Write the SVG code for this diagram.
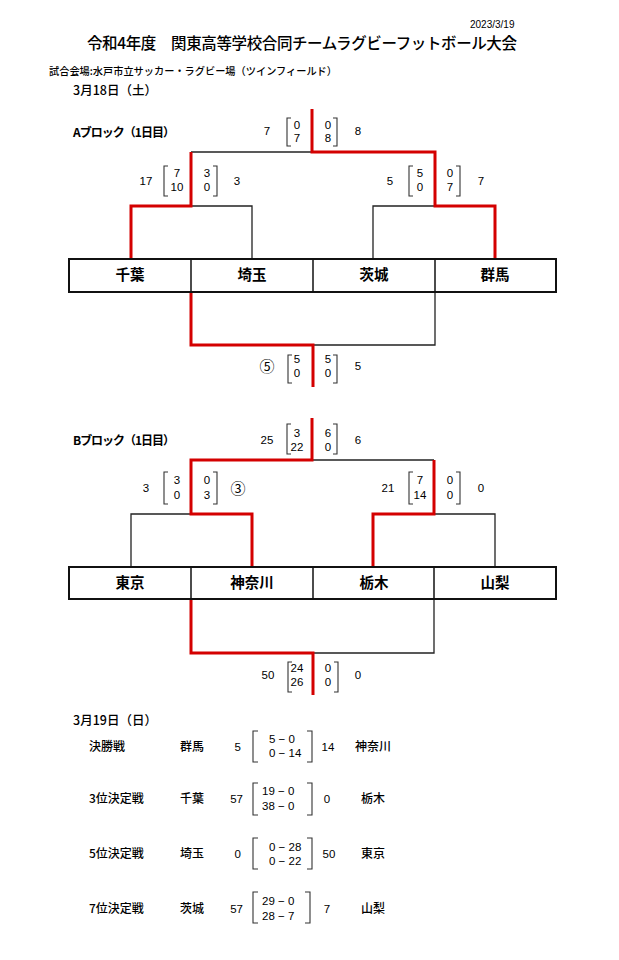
<svg xmlns="http://www.w3.org/2000/svg" width="619" height="960" viewBox="0 0 619 960">
<style>
text{font-family:"Liberation Sans","Noto Sans CJK JP",sans-serif;fill:#000}
.jp{font-family:"Noto Sans CJK JP","Liberation Sans",sans-serif}
.s{font-size:11.5px}
.m{text-anchor:middle}
.e{text-anchor:end}
.circ{font-family:"Noto Sans CJK JP",sans-serif;font-size:15px;text-anchor:middle}
.team{font-family:"Noto Sans CJK JP",sans-serif;font-size:14.5px;font-weight:bold;text-anchor:middle}
.fin{font-family:"Noto Sans CJK JP",sans-serif;font-size:12px;font-weight:500}
.red{fill:none;stroke:#d40000;stroke-width:3}
.blk{fill:none;stroke:#222;stroke-width:1.3}
.br{fill:none;stroke:#333;stroke-width:1.1}
.box{fill:#fff;stroke:#111;stroke-width:2}
.div{stroke:#111;stroke-width:1.5}
</style>
<rect width="619" height="960" fill="#fff"/>
<g id="header">
<text x="470" y="28" style="font-size:10px">2023/3/19</text>
<text class="jp" x="87" y="49" style="font-size:15.5px;font-weight:500" textLength="430" lengthAdjust="spacing">令和4年度　関東高等学校合同チームラグビーフットボール大会</text>
<text class="jp" x="49" y="75" style="font-size:10.5px;font-weight:500" textLength="288" lengthAdjust="spacingAndGlyphs">試合会場:水戸市立サッカー・ラグビー場（ツインフィールド）</text>
<text class="jp" x="73" y="94.5" style="font-size:12.5px;font-weight:500">3月18日（土）</text>
<text class="jp" x="73" y="136.5" style="font-size:12px;font-weight:bold" textLength="102" lengthAdjust="spacing">Aブロック（1日目）</text>
<text class="jp" x="73" y="444.5" style="font-size:12px;font-weight:bold" textLength="102" lengthAdjust="spacing">Bブロック（1日目）</text>
<text class="jp" x="73" y="724.5" style="font-size:12.5px;font-weight:500">3月19日（日）</text>
</g>
<g id="connectors">
<path class="blk" d="M191,152 H312"/>
<path class="blk" d="M191,206 H252 V259"/>
<path class="blk" d="M435,206 H373 V259"/>
<path class="blk" d="M313,345 H435 V292"/>
<path class="red" d="M312,109 V152 H435 V206 H495 V259"/>
<path class="red" d="M191,152 V206 H131 V259"/>
<path class="red" d="M191,292 V345 H313 V387"/>
<path class="blk" d="M312,460 H434"/>
<path class="blk" d="M191,514 H131 V567"/>
<path class="blk" d="M434,514 H495 V567"/>
<path class="blk" d="M313,653 H434 V599"/>
<path class="red" d="M312,418 V460 H191 V514 H252 V567"/>
<path class="red" d="M434,460 V514 H373 V567"/>
<path class="red" d="M191,599 V653 H313 V695"/>
</g>
<g id="teamsA">
<rect class="box" x="69" y="259" width="487" height="33"/>
<line class="div" x1="191" y1="259" x2="191" y2="292"/>
<line class="div" x1="313" y1="259" x2="313" y2="292"/>
<line class="div" x1="435" y1="259" x2="435" y2="292"/>
<g id="chiba"><text class="team" x="130" y="280">千葉</text></g>
<g id="saitama"><text class="team" x="252" y="280">埼玉</text></g>
<g id="ibaraki"><text class="team" x="374" y="280">茨城</text></g>
<g id="gunma"><text class="team" x="495" y="280">群馬</text></g>
</g>
<g id="teamsB">
<rect class="box" x="69" y="567" width="487" height="32"/>
<line class="div" x1="191" y1="567" x2="191" y2="599"/>
<line class="div" x1="313" y1="567" x2="313" y2="599"/>
<line class="div" x1="434" y1="567" x2="434" y2="599"/>
<g id="tokyo"><text class="team" x="130" y="588">東京</text></g>
<g id="kanagawa"><text class="team" x="252" y="588">神奈川</text></g>
<g id="tochigi"><text class="team" x="374" y="588">栃木</text></g>
<g id="yamanashi"><text class="team" x="495" y="588">山梨</text></g>
</g>
<g id="scoresA">
<g id="a-final">
<path class="br" d="M291,118 H287 V146 H291"/><path class="br" d="M333,118 H337 V146 H333"/>
<text class="s m" x="267" y="135">7</text>
<text class="s m" x="297" y="129">0</text><text class="s m" x="297" y="142">7</text>
<text class="s m" x="328" y="129">0</text><text class="s m" x="328" y="142">8</text>
<text class="s m" x="358" y="135">8</text>
</g>
<g id="a-semi-left">
<path class="br" d="M168,166 H164 V196 H168"/><path class="br" d="M213,166 H217 V196 H213"/>
<text class="s m" x="146" y="185">17</text>
<text class="s m" x="177" y="177">7</text><text class="s m" x="177" y="191">10</text>
<text class="s m" x="207" y="177">3</text><text class="s m" x="207" y="191">0</text>
<text class="s m" x="237" y="185">3</text>
</g>
<g id="a-semi-right">
<path class="br" d="M413,166 H409 V196 H413"/><path class="br" d="M456,166 H460 V196 H456"/>
<text class="s m" x="390" y="185">5</text>
<text class="s m" x="420" y="177">5</text><text class="s m" x="420" y="191">0</text>
<text class="s m" x="450" y="177">0</text><text class="s m" x="450" y="191">7</text>
<text class="s m" x="481" y="185">7</text>
</g>
<g id="a-consolation">
<path class="br" d="M292,355 H288 V383 H292"/><path class="br" d="M333,355 H337 V383 H333"/>
<text class="circ" x="267" y="371.5">⑤</text>
<text class="s m" x="297" y="363">5</text><text class="s m" x="297" y="377">0</text>
<text class="s m" x="328" y="363">5</text><text class="s m" x="328" y="377">0</text>
<text class="s m" x="358" y="370">5</text>
</g>
</g>
<g id="scoresB">
<g id="b-final">
<path class="br" d="M291,424 H287 V454 H291"/><path class="br" d="M333,424 H337 V454 H333"/>
<text class="s m" x="267" y="444">25</text>
<text class="s m" x="297" y="437">3</text><text class="s m" x="297" y="451">22</text>
<text class="s m" x="328" y="437">6</text><text class="s m" x="328" y="451">0</text>
<text class="s m" x="358" y="444">6</text>
</g>
<g id="b-semi-left">
<path class="br" d="M168,472 H164 V504 H168"/><path class="br" d="M213,472 H217 V504 H213"/>
<text class="s m" x="146" y="492">3</text>
<text class="s m" x="177" y="484">3</text><text class="s m" x="177" y="499">0</text>
<text class="s m" x="207" y="484">0</text><text class="s m" x="207" y="499">3</text>
<text class="circ" x="238" y="493.5">③</text>
</g>
<g id="b-semi-right">
<path class="br" d="M413,472 H409 V504 H413"/><path class="br" d="M456,472 H460 V504 H456"/>
<text class="s m" x="388" y="492">21</text>
<text class="s m" x="420" y="484">7</text><text class="s m" x="420" y="499">14</text>
<text class="s m" x="450" y="484">0</text><text class="s m" x="450" y="499">0</text>
<text class="s m" x="481" y="492">0</text>
</g>
<g id="b-consolation">
<path class="br" d="M292,662 H288 V692 H292"/><path class="br" d="M334,662 H338 V692 H334"/>
<text class="s m" x="268" y="679">50</text>
<text class="s m" x="297" y="672">24</text><text class="s m" x="297" y="686">26</text>
<text class="s m" x="328" y="672">0</text><text class="s m" x="328" y="686">0</text>
<text class="s m" x="358" y="679">0</text>
</g>
</g>
<g id="finals">
<g id="final1">
<text class="fin" x="89" y="751">決勝戦</text>
<text class="fin" x="180" y="751">群馬</text>
<text class="s e" x="241" y="751">5</text>
<path class="br" d="M258,731 H253 V762 H258"/>
<text class="s" x="269" y="743">5 − 0</text>
<text class="s" x="269" y="757">0 − 14</text>
<path class="br" d="M307,731 H312 V762 H307"/>
<text class="s m" x="328" y="751">14</text>
<text class="fin m" x="373" y="751">神奈川</text>
</g>
<g id="final3">
<text class="fin" x="89" y="803">3位決定戦</text>
<text class="fin" x="180" y="803">千葉</text>
<text class="s e" x="243" y="803">57</text>
<path class="br" d="M258,783 H253 V815 H258"/>
<text class="s" x="262" y="795">19 − 0</text>
<text class="s" x="262" y="810">38 − 0</text>
<path class="br" d="M307,783 H312 V815 H307"/>
<text class="s m" x="327" y="803">0</text>
<text class="fin m" x="373" y="803">栃木</text>
</g>
<g id="final5">
<text class="fin" x="89" y="858">5位決定戦</text>
<text class="fin" x="180" y="858">埼玉</text>
<text class="s e" x="241" y="858">0</text>
<path class="br" d="M258,838 H253 V869 H258"/>
<text class="s" x="269" y="851">0 − 28</text>
<text class="s" x="269" y="865">0 − 22</text>
<path class="br" d="M307,838 H312 V869 H307"/>
<text class="s m" x="329" y="858">50</text>
<text class="fin m" x="373" y="858">東京</text>
</g>
<g id="final7">
<text class="fin" x="89" y="913">7位決定戦</text>
<text class="fin" x="180" y="913">茨城</text>
<text class="s e" x="243" y="913">57</text>
<path class="br" d="M258,892 H253 V923 H258"/>
<text class="s" x="262" y="905">29 − 0</text>
<text class="s" x="262" y="920">28 − 7</text>
<path class="br" d="M305,892 H310 V923 H305"/>
<text class="s m" x="327" y="913">7</text>
<text class="fin m" x="373" y="913">山梨</text>
</g>
</g>
</svg>
